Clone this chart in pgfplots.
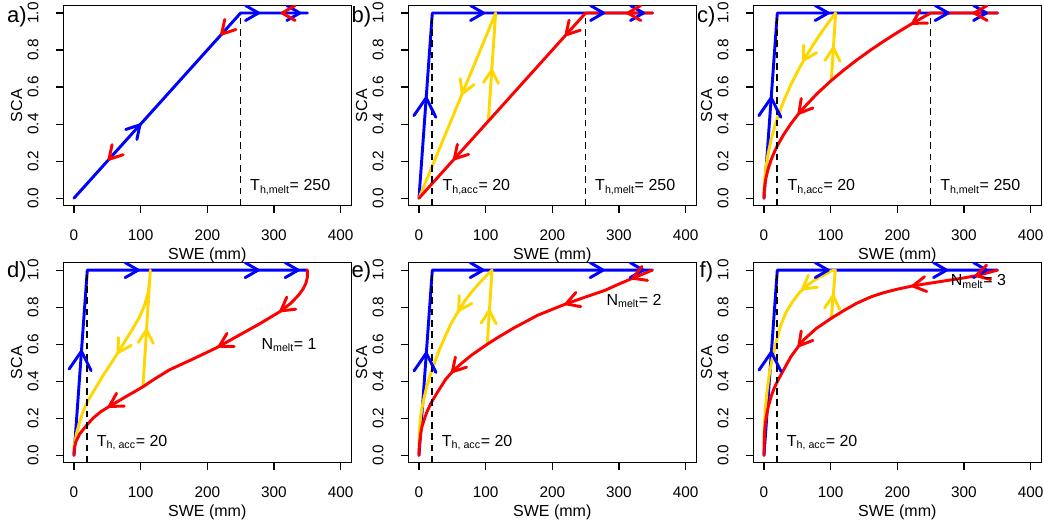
\documentclass[border=0pt]{standalone}
\usepackage{fontspec}
\setmainfont{Liberation Sans}
\usepackage{pgfplots}
\pgfplotsset{compat=1.18}
\usetikzlibrary{arrows.meta}

\definecolor{rblue}{RGB}{0,0,255}
\definecolor{rred}{RGB}{255,0,0}
\definecolor{rgold}{RGB}{255,215,0}

\pgfplotsset{
  panel/.style={
    anchor=south west, scale only axis, width=216pt, height=150pt,
    xmin=-16, xmax=416, ymin=-0.04, ymax=1.04,
    xtick={0,100,200,300,400}, xticklabels={0,100,200,300,400},
    ytick={0,0.2,0.4,0.6,0.8,1}, yticklabels={0.0,0.2,0.4,0.6,0.8,1.0},
    xtick pos=bottom, ytick pos=left,
    tick align=outside, major tick length=5.5pt,
    tick style={black, line width=0.9pt},
    axis line style={line width=1pt},
    ticklabel style={font=\fontsize{11.5}{13}\selectfont},
    yticklabel style={rotate=90, anchor=south},
    xticklabel shift=9pt, yticklabel shift=9.5pt,
    xlabel={SWE (mm)}, ylabel={SCA},
    label style={font=\fontsize{12}{14}\selectfont},
    xlabel style={at={(axis description cs:0.5,-0.248)}, anchor=center},
    ylabel style={at={(axis description cs:-0.162,0.5)}, anchor=center},
    clip mode=individual,
  },
}
\tikzset{
  ln/.style={line width=2.2pt, line cap=round, line join=round},
  ar/.style={line width=2.2pt, line cap=round, -{Straight Barb[round, length=9.75pt, width=11.25pt]}},
  arbig/.style={line width=2.2pt, line cap=round, -{Straight Barb[round, length=14pt, width=16.5pt]}},
  dsh/.style={black, line width=1.25pt, dash pattern=on 5pt off 3.5pt},
  txt/.style={anchor=base west, inner sep=0pt, font=\fontsize{12}{14}\selectfont},
  plab/.style={font=\fontsize{16.5}{18}\selectfont, anchor=center},
}

\begin{document}
\begin{tikzpicture}
\useasboundingbox (0,0) rectangle (783pt,394.5pt);

% ---------------- a) ----------------
\begin{axis}[panel, at={(47.475pt,240.3pt)}]
\addplot[rblue, ln] coordinates {(0,0) (250,1) (350,1)};
\addplot[dsh] coordinates {(250,-0.04) (250,1)};
\addplot[rblue, ar] coordinates {(95.5,0.382) (100.5,0.402)};
\addplot[rblue, ar] coordinates {(271,1) (279,1)};
\addplot[rblue, ar] coordinates {(333,1) (341,1)};
\addplot[rred, ar] coordinates {(56,0.224) (51,0.204)};
\addplot[rred, ar] coordinates {(225,0.9) (220,0.88)};
\addplot[rred, ar] coordinates {(317,1) (310,1)};
\node[txt] at (axis cs:264,0.04) {T\textsubscript{h,melt}= 250};
\node[plab] at (rel axis cs:-0.161,0.945) {a)};
\end{axis}

% ---------------- b) ----------------
\begin{axis}[panel, at={(306.225pt,240.3pt)}]
\addplot[rblue, ln] coordinates {(0,0) (20,1) (350,1)};
\addplot[rgold, ln] coordinates {(104,0.416) (115,1) (0,0)};
\addplot[rred, ln] coordinates {(350,1) (250,1) (0,0)};
\addplot[dsh] coordinates {(20,-0.04) (20,1)};
\addplot[dsh] coordinates {(250,-0.04) (250,1)};
\addplot[rblue, arbig] coordinates {(10.46,0.523) (11,0.55)};
\addplot[rblue, ar] coordinates {(91,1) (99,1)};
\addplot[rblue, ar] coordinates {(271,1) (279,1)};
\addplot[rblue, ar] coordinates {(331,1) (339,1)};
\addplot[rgold, ar] coordinates {(66.9,0.582) (64,0.557)};
\addplot[rgold, ar] coordinates {(108.85,0.673) (109.35,0.7)};
\addplot[rred, ar] coordinates {(319,1) (311,1)};
\addplot[rred, ar] coordinates {(224,0.896) (219,0.876)};
\addplot[rred, ar] coordinates {(56.5,0.226) (51.5,0.206)};
\node[txt] at (axis cs:35,0.04) {T\textsubscript{h,acc}= 20};
\node[txt] at (axis cs:264,0.04) {T\textsubscript{h,melt}= 250};
\node[plab] at (rel axis cs:-0.163,0.945) {b)};
\end{axis}

% ---------------- c) ----------------
\begin{axis}[panel, at={(564.975pt,240.3pt)}]
\addplot[rblue, ln] coordinates {(0,0) (20,1) (350,1)};
\addplot[rgold, ln] coordinates {(101,0.636) (107.5,1) (100,0.9645) (90,0.915) (80,0.8627)
  (70,0.807) (60,0.7471) (50,0.682) (40,0.61) (30,0.5283) (20,0.4313) (15,0.3735)
  (10,0.305) (6,0.2362) (3,0.1671) (1.5,0.1181) (0.5,0.0682) (0,0.02)};
\addplot[rred, ln] coordinates {(350,1) (250,1) (240,0.9798) (220,0.9381) (200,0.8944)
  (180,0.8485) (160,0.8) (140,0.7483) (120,0.6928) (100,0.6325) (80,0.5657) (60,0.4899)
  (50,0.4472) (40,0.4) (30,0.3464) (20,0.2828) (15,0.2449) (10,0.2) (6,0.1549)
  (3,0.1095) (1.5,0.0775) (0.5,0.0447) (0,0)};
\addplot[dsh] coordinates {(20,-0.04) (20,1)};
\addplot[dsh] coordinates {(250,-0.04) (250,1)};
\addplot[rblue, arbig] coordinates {(10.46,0.523) (11,0.55)};
\addplot[rblue, ar] coordinates {(90.5,1) (98.5,1)};
\addplot[rblue, ar] coordinates {(270.5,1) (278.5,1)};
\addplot[rblue, ar] coordinates {(328,1) (336,1)};
\addplot[rgold, ar] coordinates {(62.2,0.7615) (58.5,0.738)};
\addplot[rgold, ar] coordinates {(103.82,0.793) (104.3,0.82)};
\addplot[rred, ar] coordinates {(321,1) (313,1)};
\addplot[rred, ar] coordinates {(227.5,0.954) (221,0.94)};
\addplot[rred, ar] coordinates {(55.7,0.473) (51,0.452)};
\node[txt] at (axis cs:35,0.04) {T\textsubscript{h,acc}= 20};
\node[txt] at (axis cs:264,0.04) {T\textsubscript{h,melt}= 250};
\node[plab] at (rel axis cs:-0.163,0.945) {c)};
\end{axis}

% ---------------- d) ----------------
\begin{axis}[panel, at={(47.475pt,47.475pt)}]
\addplot[rblue, ln] coordinates {(0,0) (20,1) (350,1)};
\addplot[rgold, ln] coordinates {(103.5,0.37) (114.5,1) (113.5,0.94) (111,0.874) (106,0.811)
  (98.5,0.748) (88.5,0.685) (76,0.613) (63.5,0.54) (43.5,0.43) (28.5,0.34) (21,0.295)
  (14,0.24) (8.5,0.18) (4,0.12) (1,0.063) (0,0.04)};
\addplot[rred, ln] coordinates {(350,1) (350,0.96) (348,0.93) (344,0.9) (337,0.865) (325,0.82)
  (308.5,0.775) (278.5,0.71) (243.5,0.64) (213.5,0.58) (178.5,0.52) (143.5,0.462) (120,0.41)
  (103.5,0.37) (78.5,0.318) (53.5,0.265) (40,0.235) (28.5,0.2) (18.5,0.16) (8.5,0.115)
  (3,0.075) (1,0.045) (0,0.01) (0,0)};
\addplot[dsh] coordinates {(20,-0.04) (20,1)};
\addplot[rblue, arbig] coordinates {(10.86,0.543) (11.4,0.57)};
\addplot[rblue, ar] coordinates {(90.5,1) (98.5,1)};
\addplot[rblue, ar] coordinates {(270.5,1) (278.5,1)};
\addplot[rblue, ar] coordinates {(330.5,1) (338.5,1)};
\addplot[rgold, ar] coordinates {(68.9,0.571) (65,0.548)};
\addplot[rgold, ar] coordinates {(108.53,0.658) (109,0.685)};
\addplot[rred, ar] coordinates {(314.5,0.791) (308.5,0.775)};
\addplot[rred, ar] coordinates {(222.5,0.598) (216,0.585)};
\addplot[rred, ar] coordinates {(57.5,0.274) (51,0.26)};
\node[txt] at (axis cs:34,0.049) {T\textsubscript{h, acc}= 20};
\node[txt] at (axis cs:281,0.573) {N\textsubscript{melt}= 1};
\node[plab] at (rel axis cs:-0.161,0.955) {d)};
\end{axis}

% ---------------- e) ----------------
\begin{axis}[panel, at={(306.225pt,47.475pt)}]
\addplot[rblue, ln] coordinates {(0,0) (20,1) (350,1)};
\addplot[rgold, ln] coordinates {(102.5,0.6) (109.5,1) (98.5,0.96) (88,0.92) (78.5,0.88)
  (68,0.83) (58.5,0.775) (48,0.71) (38.5,0.635) (30,0.565) (23.5,0.5) (16,0.425) (11,0.36)
  (6,0.285) (2.5,0.21) (1,0.15) (0,0.06)};
\addplot[rred, ln] coordinates {(350,1) (340,0.985) (330,0.97) (318.5,0.953) (300,0.925)
  (278.5,0.89) (250,0.855) (218.5,0.815) (178.5,0.757) (143.5,0.69) (120,0.64) (102.5,0.6)
  (78.5,0.54) (60,0.485) (51,0.455) (40,0.41) (28.5,0.345) (18.5,0.285) (12,0.235)
  (8.5,0.2) (4.5,0.155) (2.5,0.115) (1,0.07) (0.3,0.035) (0,0)};
\addplot[dsh] coordinates {(20,-0.04) (20,1)};
\addplot[rblue, arbig] coordinates {(10.66,0.533) (11.2,0.56)};
\addplot[rblue, ar] coordinates {(90.5,1) (98.5,1)};
\addplot[rblue, ar] coordinates {(270.5,1) (278.5,1)};
\addplot[rblue, ar] coordinates {(330.5,1) (338.5,1)};
\addplot[rgold, ar] coordinates {(62.45,0.798) (58.5,0.775)};
\addplot[rgold, ar] coordinates {(105.36,0.763) (105.83,0.79)};
\addplot[rred, ar] coordinates {(325.4,0.963) (318.5,0.953)};
\addplot[rred, ar] coordinates {(225.6,0.824) (218.5,0.815)};
\addplot[rred, ar] coordinates {(53.5,0.465) (48.5,0.445)};
\node[txt] at (axis cs:34,0.049) {T\textsubscript{h, acc}= 20};
\node[txt] at (axis cs:281,0.81) {N\textsubscript{melt}= 2};
\node[plab] at (rel axis cs:-0.163,0.955) {e)};
\end{axis}

% ---------------- f) ----------------
\begin{axis}[panel, at={(564.975pt,47.475pt)}]
\addplot[rblue, ln] coordinates {(0,0) (20,1) (350,1)};
\addplot[rgold, ln] coordinates {(101,0.74) (107,1) (100,0.995) (93.5,0.98) (83,0.962)
  (73.5,0.94) (63,0.912) (53.5,0.88) (43,0.83) (33.5,0.775) (25,0.7) (18.5,0.615)
  (13,0.53) (8.5,0.45) (5,0.36) (2.5,0.27) (1,0.19) (0,0.08)};
\addplot[rred, ln] coordinates {(350,1) (335,0.985) (318.5,0.97) (300,0.958) (278.5,0.946)
  (250,0.93) (223.5,0.915) (200,0.897) (178.5,0.877) (160,0.855) (138.5,0.82) (120,0.782)
  (101,0.74) (78.5,0.685) (60,0.625) (51,0.585) (40,0.53) (28.5,0.455) (21,0.405)
  (15,0.36) (11,0.32) (7,0.27) (4.5,0.23) (2,0.17) (1,0.13) (0.3,0.07) (0,0)};
\addplot[dsh] coordinates {(20,-0.04) (20,1)};
\addplot[rblue, arbig] coordinates {(10.76,0.538) (11.3,0.565)};
\addplot[rblue, ar] coordinates {(90.5,1) (98.5,1)};
\addplot[rblue, ar] coordinates {(268,1) (276,1)};
\addplot[rblue, ar] coordinates {(328,1) (336,1)};
\addplot[rgold, ar] coordinates {(61.5,0.908) (56,0.893)};
\addplot[rgold, ar] coordinates {(103.38,0.843) (104,0.87)};
\addplot[rred, ar] coordinates {(323.3,0.975) (316,0.968)};
\addplot[rred, ar] coordinates {(228.4,0.917) (221,0.913)};
\addplot[rred, ar] coordinates {(55.7,0.606) (51,0.585)};
\node[txt] at (axis cs:34,0.049) {T\textsubscript{h, acc}= 20};
\node[txt] at (axis cs:280,0.915) {N\textsubscript{melt}= 3};
\node[plab] at (rel axis cs:-0.163,0.955) {f)};
\end{axis}
\end{tikzpicture}
\end{document}
